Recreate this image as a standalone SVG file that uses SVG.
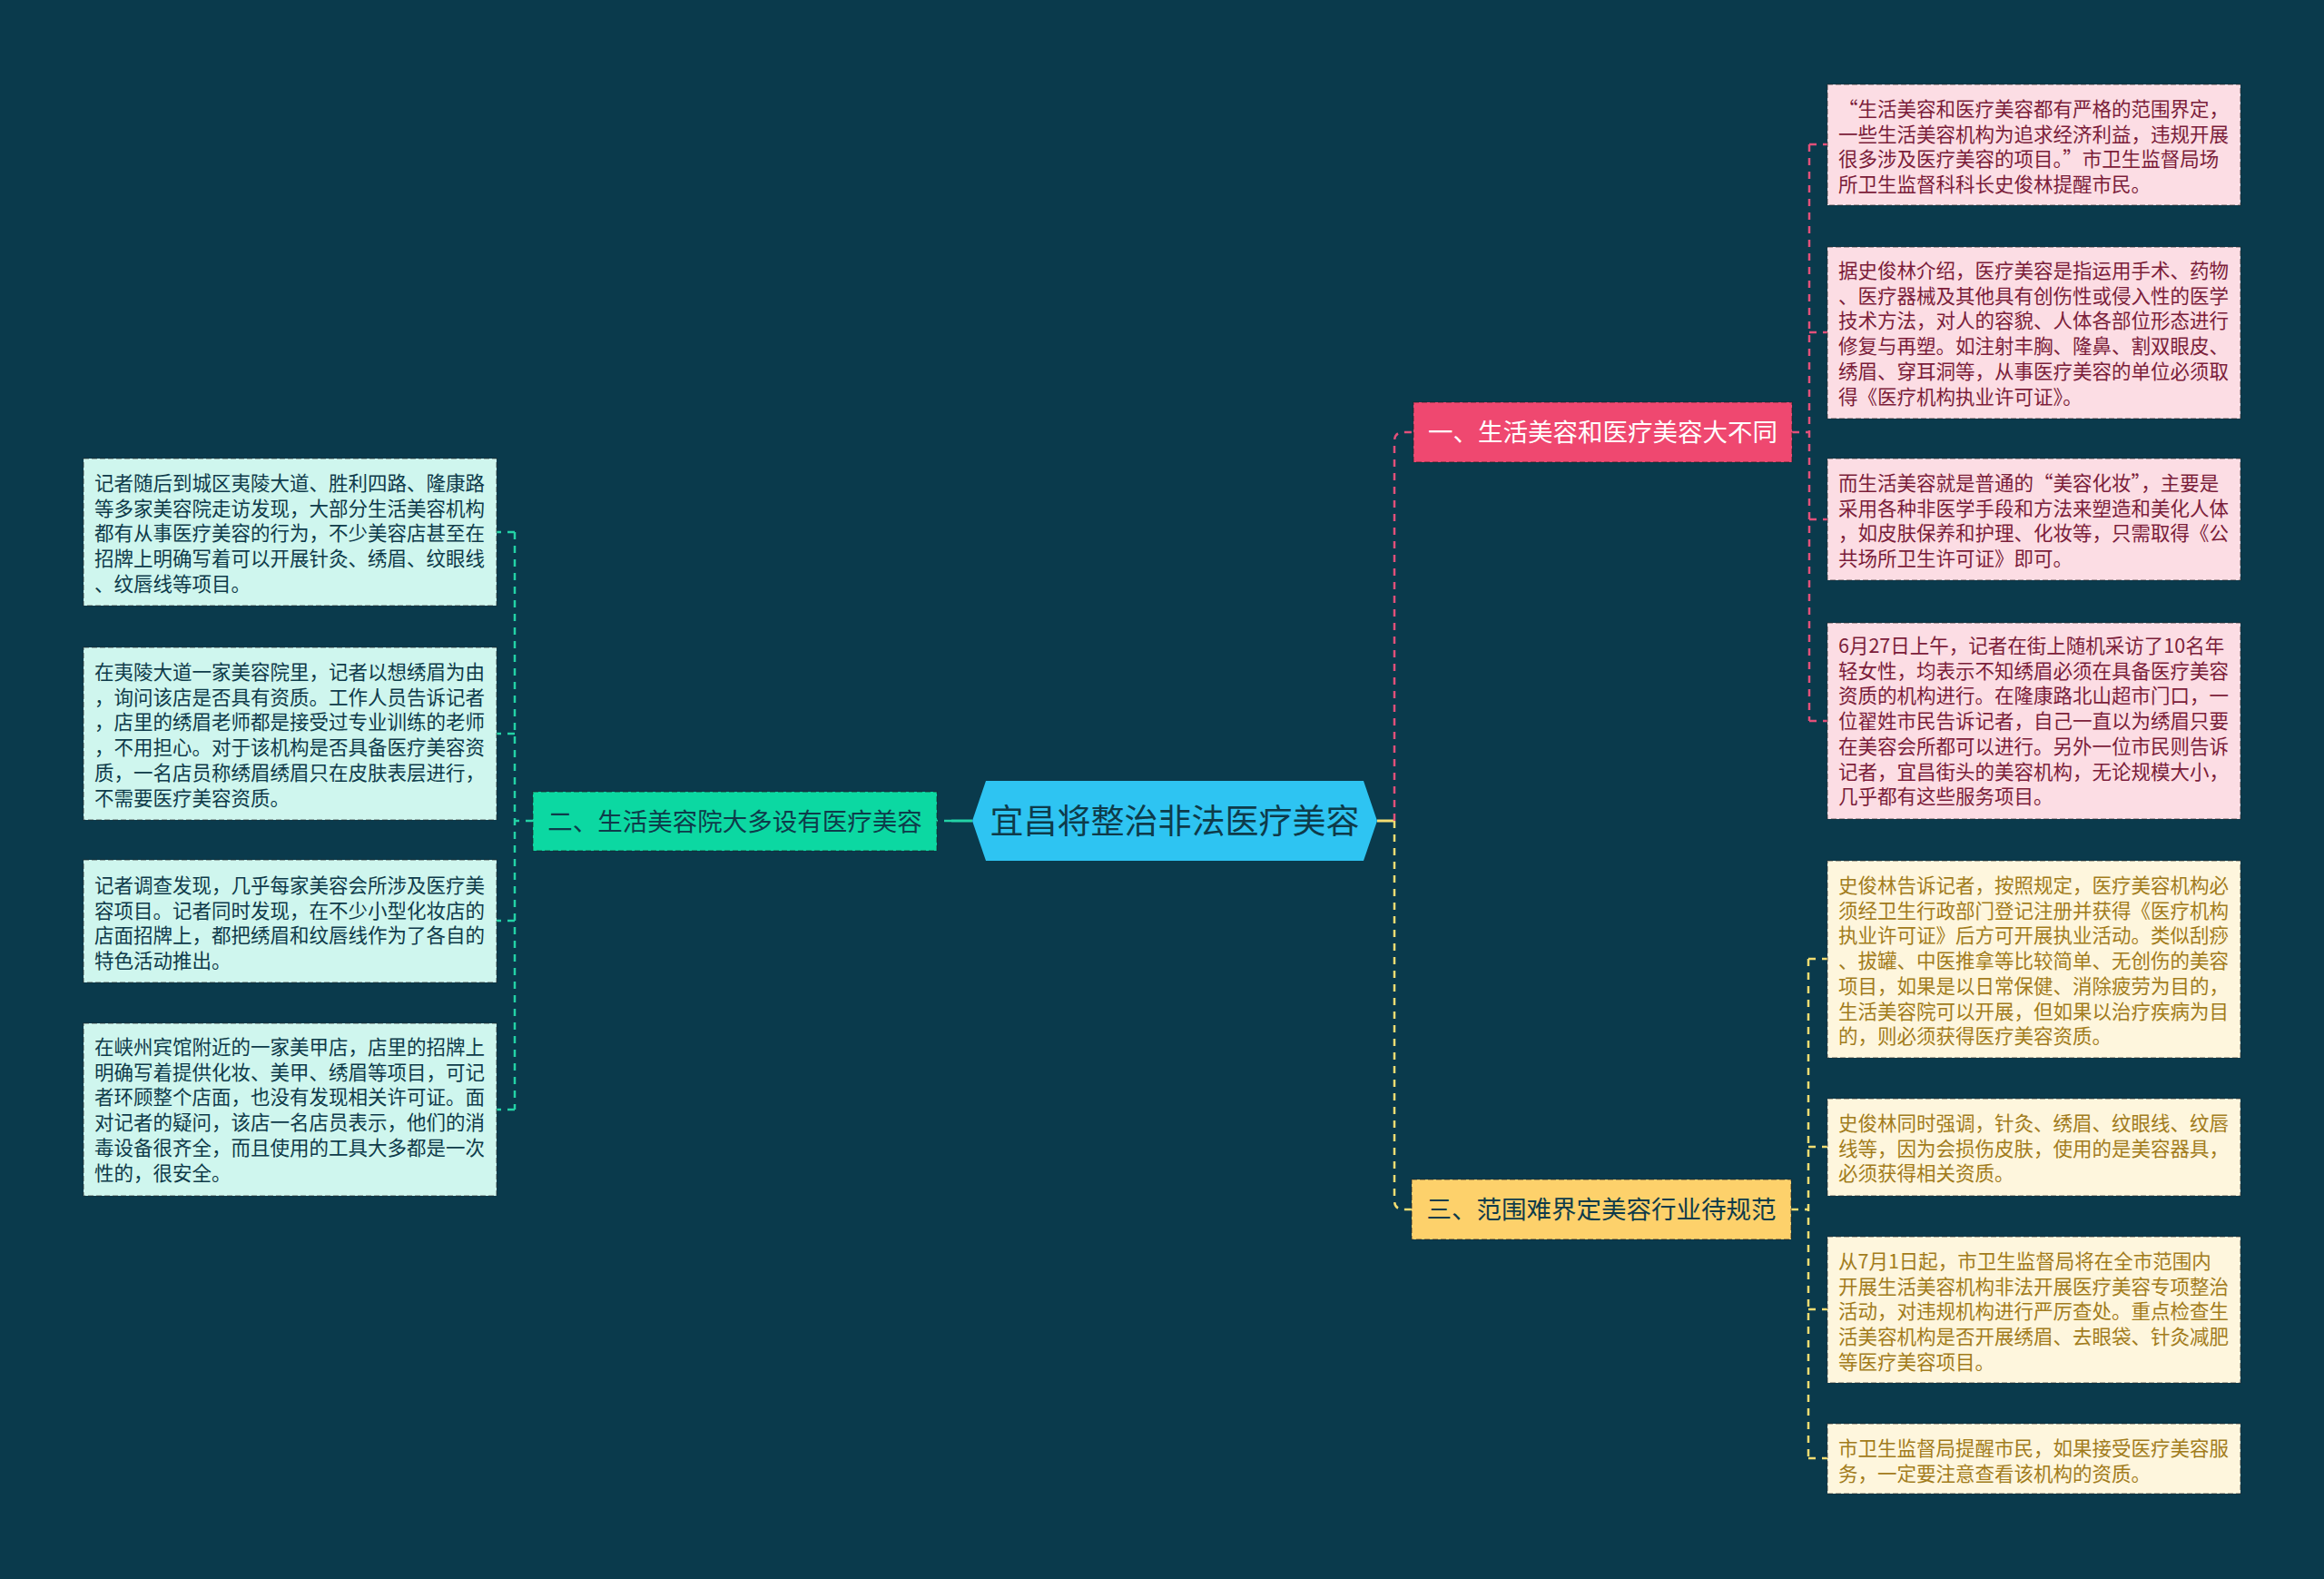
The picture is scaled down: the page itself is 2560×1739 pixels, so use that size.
<svg xmlns="http://www.w3.org/2000/svg" width="2560" height="1739" viewBox="0 0 2560 1739">
<style>
text{font-family:"Noto Sans CJK SC","Noto Sans",sans-serif;}
.leaf{stroke:rgba(40,40,40,0.45);stroke-width:1.5;stroke-dasharray:6 3;}
.pinkleaf{fill:#fcdde4;}
.yelleaf{fill:#fef6dd;}
.cyanleaf{fill:#cff6ee;}
.lt{font-size:21.5px;}
.pt{fill:#7b1d3a;}
.yt{fill:#a27c1c;}
.ct{fill:#0e3b4a;}
.sub{stroke:rgba(30,30,30,0.45);stroke-width:1.5;stroke-dasharray:6 3;}
.st{font-size:27.5px;}
.conn{fill:none;stroke-width:2.5;stroke-dasharray:8 7;}
.cp{stroke:#e2507a;}
.cy{stroke:#f3dd72;}
.cg{stroke:#23d3a6;}
</style>
<rect x="0" y="0" width="2560" height="1739" fill="#0a3a4c"/>

<g id="connectors">
<path d="M1517 904 H1536" fill="none" stroke="#f3dd72" stroke-width="3"/>
<path class="conn cp" d="M1536 904 V486 Q1536 476 1546 476 H1557"/>
<path class="conn cy" d="M1536 904 V1322 Q1536 1332 1546 1332 H1555"/>
<path d="M1048 904 H1071" fill="none" stroke="#23d3a6" stroke-width="3"/>
<path class="conn cg" d="M1048 904 H1032"/>
<path class="conn cg" d="M587 904 H567 M567 586 V1222 M567 586 H547 M567 808 H547 M567 1014 H547 M567 1222 H547"/>
<path class="conn cp" d="M1974 476 H1993 M1993 159 V794 M1993 159 H2013 M1993 366 H2013 M1993 572 H2013 M1993 794 H2013"/>
<path class="conn cy" d="M1973 1332 H1992 M1992 1056 V1606 M1992 1056 H2013 M1992 1263 H2013 M1992 1442 H2013 M1992 1606 H2013"/>
</g>

<g id="root">
<polygon points="1071,904 1086,860 1502,860 1517,904 1502,948 1086,948" fill="#2ec4f2"/>
<text x="1294" y="918" font-size="37" text-anchor="middle" fill="#0e3b4a">宜昌将整治非法医疗美容</text>
</g>

<g id="branch1">
<rect x="1557" y="443" width="417" height="66" fill="#ef4870" class="sub"/>
<text x="1765.5" y="486" class="st" text-anchor="middle" fill="#ffffff">一、生活美容和医疗美容大不同</text>
</g>
<g id="branch2">
<rect x="587" y="872" width="445" height="65" fill="#0cd8a2" class="sub"/>
<text x="809.5" y="915" class="st" text-anchor="middle" fill="#0e3b4a">二、生活美容院大多设有医疗美容</text>
</g>
<g id="branch3">
<rect x="1555" y="1299" width="418" height="66" fill="#fdd16b" class="sub"/>
<text x="1764" y="1342" class="st" text-anchor="middle" fill="#0e3b4a">三、范围难界定美容行业待规范</text>
</g>

<g id="leaf1">
<rect x="2013" y="93" width="455" height="133" class="leaf pinkleaf"/>
<text class="lt pt" x="2025" y="128"><tspan x="2025">“生活美容和医疗美容都有严格的范围界定，</tspan><tspan x="2025" dy="27.7">一些生活美容机构为追求经济利益，违规开展</tspan><tspan x="2025" dy="27.7">很多涉及医疗美容的项目。”市卫生监督局场</tspan><tspan x="2025" dy="27.7">所卫生监督科科长史俊林提醒市民。</tspan></text>
</g>
<g id="leaf2">
<rect x="2013" y="272" width="455" height="189" class="leaf pinkleaf"/>
<text class="lt pt" x="2025" y="306"><tspan x="2025">据史俊林介绍，医疗美容是指运用手术、药物</tspan><tspan x="2025" dy="27.7">、医疗器械及其他具有创伤性或侵入性的医学</tspan><tspan x="2025" dy="27.7">技术方法，对人的容貌、人体各部位形态进行</tspan><tspan x="2025" dy="27.7">修复与再塑。如注射丰胸、隆鼻、割双眼皮、</tspan><tspan x="2025" dy="27.7">绣眉、穿耳洞等，从事医疗美容的单位必须取</tspan><tspan x="2025" dy="27.7">得《医疗机构执业许可证》。</tspan></text>
</g>
<g id="leaf3">
<rect x="2013" y="505" width="455" height="134" class="leaf pinkleaf"/>
<text class="lt pt" x="2025" y="540"><tspan x="2025">而生活美容就是普通的“美容化妆”，主要是</tspan><tspan x="2025" dy="27.7">采用各种非医学手段和方法来塑造和美化人体</tspan><tspan x="2025" dy="27.7">，如皮肤保养和护理、化妆等，只需取得《公</tspan><tspan x="2025" dy="27.7">共场所卫生许可证》即可。</tspan></text>
</g>
<g id="leaf4">
<rect x="2013" y="686" width="455" height="216" class="leaf pinkleaf"/>
<text class="lt pt" x="2025" y="719"><tspan x="2025">6月27日上午，记者在街上随机采访了10名年</tspan><tspan x="2025" dy="27.7">轻女性，均表示不知绣眉必须在具备医疗美容</tspan><tspan x="2025" dy="27.7">资质的机构进行。在隆康路北山超市门口，一</tspan><tspan x="2025" dy="27.7">位翟姓市民告诉记者，自己一直以为绣眉只要</tspan><tspan x="2025" dy="27.7">在美容会所都可以进行。另外一位市民则告诉</tspan><tspan x="2025" dy="27.7">记者，宜昌街头的美容机构，无论规模大小，</tspan><tspan x="2025" dy="27.7">几乎都有这些服务项目。</tspan></text>
</g>

<g id="leaf5">
<rect x="2013" y="948" width="455" height="217" class="leaf yelleaf"/>
<text class="lt yt" x="2025" y="983"><tspan x="2025">史俊林告诉记者，按照规定，医疗美容机构必</tspan><tspan x="2025" dy="27.7">须经卫生行政部门登记注册并获得《医疗机构</tspan><tspan x="2025" dy="27.7">执业许可证》后方可开展执业活动。类似刮痧</tspan><tspan x="2025" dy="27.7">、拔罐、中医推拿等比较简单、无创伤的美容</tspan><tspan x="2025" dy="27.7">项目，如果是以日常保健、消除疲劳为目的，</tspan><tspan x="2025" dy="27.7">生活美容院可以开展，但如果以治疗疾病为目</tspan><tspan x="2025" dy="27.7">的，则必须获得医疗美容资质。</tspan></text>
</g>
<g id="leaf6">
<rect x="2013" y="1210" width="455" height="107" class="leaf yelleaf"/>
<text class="lt yt" x="2025" y="1245"><tspan x="2025">史俊林同时强调，针灸、绣眉、纹眼线、纹唇</tspan><tspan x="2025" dy="27.7">线等，因为会损伤皮肤，使用的是美容器具，</tspan><tspan x="2025" dy="27.7">必须获得相关资质。</tspan></text>
</g>
<g id="leaf7">
<rect x="2013" y="1362" width="455" height="161" class="leaf yelleaf"/>
<text class="lt yt" x="2025" y="1397"><tspan x="2025">从7月1日起，市卫生监督局将在全市范围内</tspan><tspan x="2025" dy="27.7">开展生活美容机构非法开展医疗美容专项整治</tspan><tspan x="2025" dy="27.7">活动，对违规机构进行严厉查处。重点检查生</tspan><tspan x="2025" dy="27.7">活美容机构是否开展绣眉、去眼袋、针灸减肥</tspan><tspan x="2025" dy="27.7">等医疗美容项目。</tspan></text>
</g>
<g id="leaf8">
<rect x="2013" y="1568" width="455" height="77" class="leaf yelleaf"/>
<text class="lt yt" x="2025" y="1603"><tspan x="2025">市卫生监督局提醒市民，如果接受医疗美容服</tspan><tspan x="2025" dy="27.7">务，一定要注意查看该机构的资质。</tspan></text>
</g>

<g id="leaf9">
<rect x="92" y="505" width="455" height="162" class="leaf cyanleaf"/>
<text class="lt ct" x="104" y="540"><tspan x="104">记者随后到城区夷陵大道、胜利四路、隆康路</tspan><tspan x="104" dy="27.7">等多家美容院走访发现，大部分生活美容机构</tspan><tspan x="104" dy="27.7">都有从事医疗美容的行为，不少美容店甚至在</tspan><tspan x="104" dy="27.7">招牌上明确写着可以开展针灸、绣眉、纹眼线</tspan><tspan x="104" dy="27.7">、纹唇线等项目。</tspan></text>
</g>
<g id="leaf10">
<rect x="92" y="713" width="455" height="190" class="leaf cyanleaf"/>
<text class="lt ct" x="104" y="748"><tspan x="104">在夷陵大道一家美容院里，记者以想绣眉为由</tspan><tspan x="104" dy="27.7">，询问该店是否具有资质。工作人员告诉记者</tspan><tspan x="104" dy="27.7">，店里的绣眉老师都是接受过专业训练的老师</tspan><tspan x="104" dy="27.7">，不用担心。对于该机构是否具备医疗美容资</tspan><tspan x="104" dy="27.7">质，一名店员称绣眉绣眉只在皮肤表层进行，</tspan><tspan x="104" dy="27.7">不需要医疗美容资质。</tspan></text>
</g>
<g id="leaf11">
<rect x="92" y="947" width="455" height="135" class="leaf cyanleaf"/>
<text class="lt ct" x="104" y="983"><tspan x="104">记者调查发现，几乎每家美容会所涉及医疗美</tspan><tspan x="104" dy="27.7">容项目。记者同时发现，在不少小型化妆店的</tspan><tspan x="104" dy="27.7">店面招牌上，都把绣眉和纹唇线作为了各自的</tspan><tspan x="104" dy="27.7">特色活动推出。</tspan></text>
</g>
<g id="leaf12">
<rect x="92" y="1127" width="455" height="190" class="leaf cyanleaf"/>
<text class="lt ct" x="104" y="1161"><tspan x="104">在峡州宾馆附近的一家美甲店，店里的招牌上</tspan><tspan x="104" dy="27.7">明确写着提供化妆、美甲、绣眉等项目，可记</tspan><tspan x="104" dy="27.7">者环顾整个店面，也没有发现相关许可证。面</tspan><tspan x="104" dy="27.7">对记者的疑问，该店一名店员表示，他们的消</tspan><tspan x="104" dy="27.7">毒设备很齐全，而且使用的工具大多都是一次</tspan><tspan x="104" dy="27.7">性的，很安全。</tspan></text>
</g>
</svg>
